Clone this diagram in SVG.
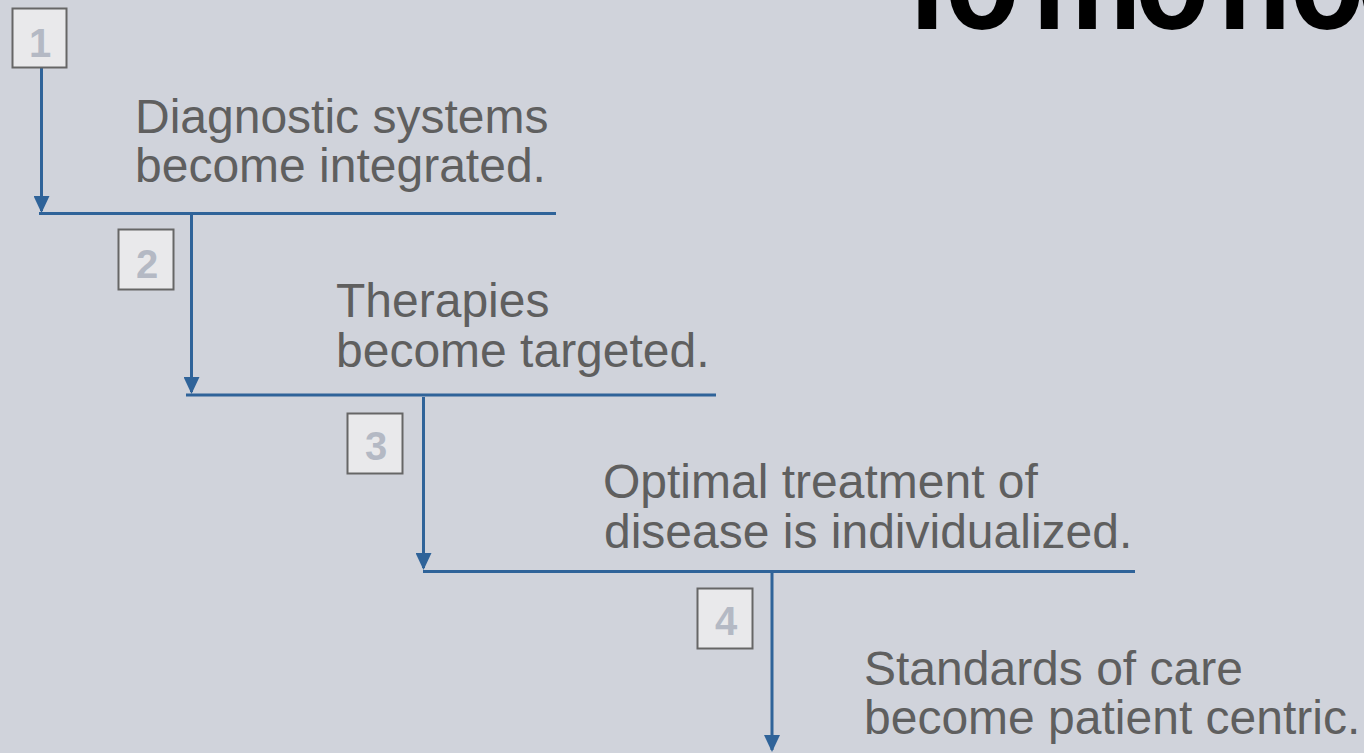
<svg xmlns="http://www.w3.org/2000/svg" width="1364" height="753" viewBox="0 0 1364 753">
<style>
.bg{fill:#d0d3db}
.title{font-family:"Liberation Sans",Arial,sans-serif;font-weight:bold;font-size:150px;fill:#000}
.box{fill:#e9e9eb;stroke:#666;stroke-width:2}
.num{font-family:"Liberation Sans",Arial,sans-serif;font-weight:bold;font-size:40px;fill:#b4b9c4;text-anchor:middle}
.lbl{font-family:"Liberation Sans",Arial,sans-serif;font-size:48px;fill:#5f5f5f}
.ln{stroke:#2f6399;stroke-width:3;fill:none}
</style>
<defs>
<marker id="ah" markerUnits="userSpaceOnUse" markerWidth="17" markerHeight="16" refX="15" refY="8" orient="auto" viewBox="0 0 17 16">
<path d="M0,0 L17,8 L0,16 z" fill="#2f6399"/>
</marker>
</defs>
<rect class="bg" x="0" y="0" width="1364" height="753"/>
<g id="title" transform="scale(0.82,1)">
<text class="title" x="1085 1152 1259 1384 1485 1534 1573 1649" y="29">Tomorrow</text>
</g>
<g id="connectors">
<line class="ln" x1="41.5" y1="68" x2="41.5" y2="211" marker-end="url(#ah)"/>
<line class="ln" x1="39" y1="213.5" x2="556" y2="213.5"/>
<line class="ln" x1="191.5" y1="214" x2="191.5" y2="392" marker-end="url(#ah)"/>
<line class="ln" x1="186" y1="395" x2="716" y2="395"/>
<line class="ln" x1="423.5" y1="397" x2="423.5" y2="568" marker-end="url(#ah)"/>
<line class="ln" x1="423" y1="571.5" x2="1135" y2="571.5"/>
<line class="ln" x1="772" y1="572" x2="772" y2="750" marker-end="url(#ah)"/>
</g>
<g id="step1">
<rect class="box" x="12.5" y="8.5" width="54" height="59"/>
<text class="num" x="40" y="57">1</text>
<text class="lbl" x="135" y="133">Diagnostic systems</text>
<text class="lbl" x="135" y="182">become integrated.</text>
</g>
<g id="step2">
<rect class="box" x="118.5" y="229.5" width="55" height="60"/>
<text class="num" x="147" y="277.5">2</text>
<text class="lbl" x="336" y="317">Therapies</text>
<text class="lbl" x="336" y="367">become targeted.</text>
</g>
<g id="step3">
<rect class="box" x="347.5" y="413.5" width="55" height="60"/>
<text class="num" x="376" y="460">3</text>
<text class="lbl" x="603" y="498">Optimal treatment of</text>
<text class="lbl" x="604" y="548">disease is individualized.</text>
</g>
<g id="step4">
<rect class="box" x="697.5" y="588.5" width="55" height="60"/>
<text class="num" x="726" y="635">4</text>
<text class="lbl" x="864" y="685">Standards of care</text>
<text class="lbl" x="864" y="734">become patient centric.</text>
</g>
</svg>
